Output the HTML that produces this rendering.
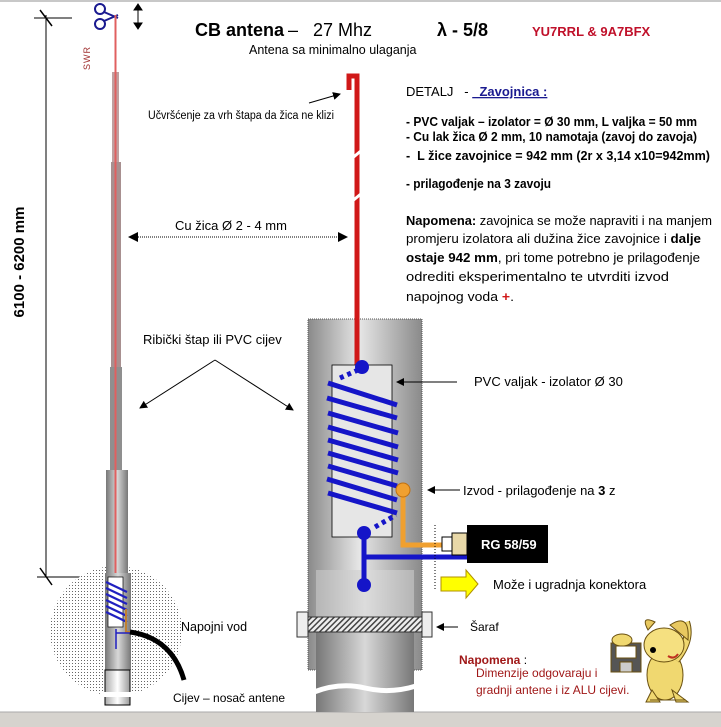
<!DOCTYPE html>
<html><head><meta charset="utf-8"><style>
html,body{margin:0;padding:0;background:#fff;width:721px;height:727px;overflow:hidden}
svg{display:block}
text{font-family:"Liberation Sans",sans-serif}
</style></head><body>
<svg width="721" height="727" viewBox="0 0 721 727" xmlns="http://www.w3.org/2000/svg">
<defs>
<linearGradient id="tube" x1="0" x2="1" y1="0" y2="0">
<stop offset="0" stop-color="#8a8a8a"/><stop offset="0.45" stop-color="#e6e6e6"/><stop offset="1" stop-color="#8a8a8a"/></linearGradient>
<linearGradient id="tube2" x1="0" x2="1" y1="0" y2="0">
<stop offset="0" stop-color="#777"/><stop offset="0.5" stop-color="#d8d8d8"/><stop offset="1" stop-color="#777"/></linearGradient>
<linearGradient id="wpipe" x1="0" x2="1"><stop offset="0" stop-color="#aaa"/><stop offset="0.5" stop-color="#fff"/><stop offset="1" stop-color="#999"/></linearGradient>
<pattern id="dots" width="3" height="3" patternUnits="userSpaceOnUse"><rect width="3" height="3" fill="#fff"/><rect width="1" height="1" fill="#666"/></pattern>
<pattern id="hatch" width="4" height="4" patternUnits="userSpaceOnUse" patternTransform="rotate(45)"><rect width="4" height="4" fill="#eee"/><rect width="1.5" height="4" fill="#444"/></pattern>
<marker id="ah" markerWidth="8" markerHeight="8" refX="7" refY="4" orient="auto"><path d="M0,0 L8,4 L0,8 z" fill="#000"/></marker>
</defs>
<rect x="0" y="0" width="721" height="2" fill="#c8c8c8"/>
<rect x="0" y="712" width="721" height="15" fill="#d6d3ce"/>
<line x1="0" y1="712" x2="721" y2="712" stroke="#aaa"/>

<!-- title -->
<text x="195" y="36" font-size="18" font-weight="bold">CB antena</text>
<text x="288" y="36" font-size="18">–&#160;&#160;&#160;27 Mhz</text>
<text x="437" y="36" font-size="18" font-weight="bold">λ - 5/8</text>
<text x="532" y="36" font-size="13" font-weight="bold" fill="#c0102a">YU7RRL &amp; 9A7BFX</text>
<text x="249" y="54" font-size="12.5">Antena sa minimalno ulaganja</text>

<!-- dimension -->
<line x1="46" y1="15" x2="46" y2="577" stroke="#000"/>
<line x1="34" y1="18" x2="72" y2="18" stroke="#000"/>
<line x1="40" y1="10" x2="52" y2="26" stroke="#000" stroke-width="1.5"/>
<line x1="37" y1="577" x2="95" y2="577" stroke="#000"/>
<line x1="40" y1="568" x2="52" y2="585" stroke="#000" stroke-width="1.5"/>
<text transform="translate(24,262) rotate(-90)" text-anchor="middle" font-size="15" font-weight="bold">6100 - 6200 mm</text>
<text transform="translate(90,58) rotate(-90)" text-anchor="middle" font-size="9" fill="#a03030" letter-spacing="1">SWR</text>

<!-- scissors -->
<circle cx="100" cy="9" r="5" fill="none" stroke="#1a1a90" stroke-width="2"/>
<circle cx="100" cy="24" r="5" fill="none" stroke="#1a1a90" stroke-width="2"/>
<path d="M104,12 L118,18 M104,21 L118,15" stroke="#1a1a90" stroke-width="2"/>
<path d="M138,5 v23 M134,10 l4,-6 l4,6 z M134,23 l4,6 l4,-6 z" stroke="#000" fill="#000"/>

<!-- left mast -->
<rect x="112" y="72" width="7" height="90" fill="#c0a0a0"/>
<rect x="111" y="162" width="10" height="205" fill="#a89090"/>
<rect x="110" y="367" width="12" height="103" fill="#8f8f8f"/>
<ellipse cx="116" cy="631" rx="66" ry="65" fill="url(#dots)"/>
<rect x="106" y="470" width="22" height="103" fill="url(#tube2)"/>
<rect x="105" y="573" width="26" height="97" fill="url(#tube2)"/>
<rect x="105" y="670" width="25" height="35" fill="url(#wpipe)" stroke="#000"/>
<rect x="100" y="692" width="35" height="5" fill="#fff"/>
<line x1="115.5" y1="15" x2="115.5" y2="573" stroke="#e06060" stroke-width="2"/>
<rect x="108" y="577" width="15" height="50" fill="#fff" stroke="#000" stroke-width="0.7"/>
<g stroke="#2020c0" stroke-width="2.2">
<line x1="106" y1="582" x2="127" y2="592"/><line x1="106" y1="588" x2="127" y2="598"/><line x1="106" y1="594" x2="127" y2="604"/><line x1="106" y1="600" x2="127" y2="610"/><line x1="106" y1="606" x2="127" y2="616"/><line x1="106" y1="612" x2="127" y2="622"/></g>
<path d="M126,609 v23 h4" stroke="#c08030" stroke-width="2" fill="none"/>
<path d="M116,633 h22 M116,629 v20" stroke="#2020c0" stroke-width="1.5" fill="none"/>
<path d="M130,632 Q172,638 184,680" stroke="#000" stroke-width="5" fill="none"/>
<text x="181" y="631" font-size="12.5">Napojni vod</text>
<text x="173" y="702" font-size="12">Cijev – nosač antene</text>

<!-- labels -->
<text x="148" y="119" font-size="11.5" textLength="186" lengthAdjust="spacingAndGlyphs">Učvršćenje za vrh štapa da žica ne klizi</text>
<line x1="309" y1="103" x2="340" y2="94" stroke="#000" marker-end="url(#ah)"/>
<text x="175" y="230" font-size="13">Cu žica Ø 2 - 4 mm</text>
<line x1="138" y1="237" x2="338" y2="237" stroke="#000" stroke-dasharray="1,1"/>
<path d="M128,237 l10,-5 v10 z M348,237 l-10,-5 v10 z" fill="#000"/>
<text x="143" y="344" font-size="13">Ribički štap ili PVC cijev</text>
<line x1="215" y1="360" x2="140" y2="408" stroke="#000" marker-end="url(#ah)"/>
<line x1="215" y1="360" x2="293" y2="410" stroke="#000" marker-end="url(#ah)"/>

<!-- big tube -->
<rect x="308" y="319" width="114" height="351" fill="url(#tube)" stroke="#555" stroke-dasharray="1,1"/>
<rect x="316" y="570" width="98" height="142" fill="url(#tube2)"/>
<rect x="316" y="570" width="98" height="50" fill="#e0e0e0" opacity="0.6"/>
<path d="M314,692 Q340,682 365,688 T416,686" stroke="#fff" stroke-width="5" fill="none"/>
<rect x="308" y="617" width="114" height="15" fill="url(#hatch)" stroke="#333"/>
<rect x="297" y="612" width="11" height="25" fill="#eee" stroke="#333"/>
<rect x="422" y="612" width="10" height="25" fill="#eee" stroke="#333"/>
<line x1="458" y1="627" x2="437" y2="627" stroke="#000" marker-end="url(#ah)"/>
<text x="470" y="631" font-size="12">Šaraf</text>

<!-- red wire -->
<path d="M349,90 V76 H357 V367" stroke="#d01818" stroke-width="5" fill="none"/>
<path d="M350,160 L362,150 M350,203 L362,193" stroke="#fff" stroke-width="3"/>

<rect x="332" y="365" width="60" height="172" fill="#e6e6e6" stroke="#000" stroke-width="0.8"/>
<g stroke="#1515c8" stroke-width="5">
<line x1="328" y1="383" x2="397" y2="405"/><line x1="327" y1="398" x2="397" y2="418"/><line x1="328" y1="413" x2="398" y2="433"/><line x1="328" y1="427" x2="398" y2="447"/><line x1="328" y1="440" x2="398" y2="460"/><line x1="328" y1="453" x2="398" y2="473"/><line x1="328" y1="466" x2="397" y2="486"/><line x1="327" y1="479" x2="397" y2="500"/><line x1="328" y1="493" x2="397" y2="513"/></g>
<path d="M340,378 L358,370 M375,527 L396,515" stroke="#1515c8" stroke-width="5" stroke-dasharray="4,4"/>
<path d="M403,497 V545 H443" stroke="#f0a030" stroke-width="5" fill="none"/>
<path d="M364,533 V585 M364,557 H467" stroke="#1515c8" stroke-width="5" fill="none"/>
<circle cx="362" cy="367" r="7" fill="#1515c8"/>
<circle cx="364" cy="533" r="7" fill="#1515c8"/>
<circle cx="364" cy="585" r="7" fill="#1515c8"/>
<circle cx="403" cy="490" r="7" fill="#f0a030" stroke="#c07010"/>
<line x1="435" y1="525" x2="435" y2="590" stroke="#000" stroke-dasharray="1,2"/>
<rect x="442" y="537" width="10" height="14" fill="#fff" stroke="#000"/>
<rect x="452" y="533" width="15" height="22" fill="#e8d8a8" stroke="#000"/>
<rect x="467" y="525" width="81" height="38" fill="#000"/>
<text x="481" y="549" font-size="13" font-weight="bold" fill="#fff">RG 58/59</text>
<path d="M441,577 H466 V570 L478,584 L466,598 V591 H441 Z" fill="#ffff00" stroke="#b09000"/>
<text x="493" y="589" font-size="13">Može i ugradnja konektora</text>
<line x1="457" y1="382" x2="397" y2="382" stroke="#000" marker-end="url(#ah)"/>
<text x="474" y="386" font-size="13">PVC valjak - izolator Ø 30</text>
<line x1="460" y1="490" x2="428" y2="490" stroke="#000" marker-end="url(#ah)"/>
<text x="463" y="495" font-size="13">Izvod - prilagođenje na <tspan font-weight="bold">3</tspan> z</text>

<!-- right text -->
<text x="406" y="96" font-size="13">DETALJ&#160;&#160;&#160;-&#160;<tspan fill="#1a1a90" font-weight="bold" text-decoration="underline">&#160;&#160;Zavojnica :</tspan></text>
<g font-size="12.5" font-weight="bold">
<text x="406" y="126" textLength="291" lengthAdjust="spacingAndGlyphs">- PVC valjak – izolator = Ø 30 mm, L valjka = 50 mm</text>
<text x="406" y="141" textLength="291" lengthAdjust="spacingAndGlyphs">- Cu lak žica Ø 2 mm, 10 namotaja (zavoj do zavoja)</text>
<text x="406" y="160" textLength="304" lengthAdjust="spacingAndGlyphs">-&#160;&#160;L žice zavojnice = 942 mm (2r x 3,14 x10=942mm)</text>
<text x="406" y="188" textLength="145" lengthAdjust="spacingAndGlyphs">- prilagođenje na 3 zavoju</text>
</g>
<g font-size="12.5">
<text x="406" y="225" textLength="306" lengthAdjust="spacingAndGlyphs"><tspan font-weight="bold">Napomena:</tspan> zavojnica se može napraviti i na manjem</text>
<text x="406" y="243" textLength="295" lengthAdjust="spacingAndGlyphs">promjeru izolatora ali dužina žice zavojnice i <tspan font-weight="bold">dalje</tspan></text>
<text x="406" y="262" textLength="294" lengthAdjust="spacingAndGlyphs"><tspan font-weight="bold">ostaje 942 mm</tspan>, pri tome potrebno je prilagođenje</text>
<text x="406" y="281" textLength="263" lengthAdjust="spacingAndGlyphs">odrediti eksperimentalno te utvrditi izvod</text>
<text x="406" y="301" textLength="108" lengthAdjust="spacingAndGlyphs">napojnog voda <tspan fill="#d01818" font-weight="bold">+</tspan>.</text>
</g>

<text x="459" y="664" font-size="12" font-weight="bold" fill="#a01818">Napomena <tspan font-weight="normal" fill="#000">:</tspan></text>
<text x="476" y="677" font-size="12" fill="#a01818">Dimenzije odgovaraju i</text>
<text x="476" y="694" font-size="12" fill="#a01818">gradnji antene i iz ALU cijevi.</text>

<!-- dog -->
<g stroke="#6a5010" stroke-width="1">
<ellipse cx="665" cy="675" rx="18" ry="25" fill="#f0d870"/>
<path d="M652,690 l-6,12 h14 z M672,690 l4,12 h12 z" fill="#f0d870"/>
<path d="M676,660 Q692,640 686,622" stroke="#6a5010" stroke-width="8" fill="none"/>
<path d="M676,660 Q692,640 686,622" stroke="#f0d870" stroke-width="6" fill="none"/>
<ellipse cx="664" cy="645" rx="20" ry="17" fill="#f5e080"/>
<path d="M648,630 Q640,615 655,622 Z M670,625 Q690,612 688,640 Z" fill="#e8c860"/>
<rect x="611" y="643" width="30" height="29" fill="#555"/>
<rect x="616" y="646" width="20" height="12" fill="#fff"/>
<rect x="620" y="662" width="12" height="10" fill="#ccc"/>
<ellipse cx="622" cy="640" rx="10" ry="6" fill="#f0d870"/>
<path d="M650,700 h36" stroke="#6a5010"/>
</g>
<circle cx="653" cy="650" r="3" fill="#000"/>
<path d="M668,656 q6,4 10,-2" stroke="#c03020" stroke-width="2" fill="none"/>
</svg>
</body></html>
